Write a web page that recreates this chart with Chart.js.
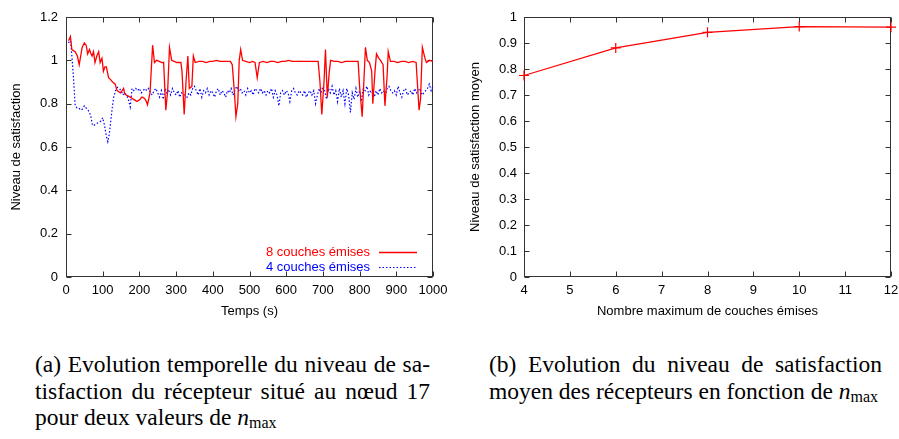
<!DOCTYPE html>
<html lang="fr">
<head>
<meta charset="utf-8">
<title>Niveau de satisfaction</title>
<script src="https://cdn.jsdelivr.net/npm/chart.js@4.4.0/dist/chart.umd.min.js"></script>
<style>
    html, body { margin: 0; padding: 0; background: #fff; }
    body { width: 899px; height: 439px; position: relative; overflow: hidden; }
    canvas { position: absolute; top: 0; }
    #chartA { left: 0; }
    #chartB { left: 450px; }
    .caption {
        position: absolute;
        font-family: "Liberation Serif", "Times New Roman", serif;
        font-size: 23.5px;
        line-height: 26.5px;
        color: #000;
    }
    .caption div { white-space: nowrap; }
    .caption .j { text-align: justify; text-align-last: justify; }
    .caption sub { font-size: 16px; vertical-align: -3px; line-height: 0; }
    #capA { left: 35px; top: 351px; width: 395px; }
    #capB { left: 489px; top: 351px; width: 393px; }
</style>
</head>
<body>
<canvas id="chartA" width="450" height="330"></canvas>
<canvas id="chartB" width="449" height="330"></canvas>

<div class="caption" id="capA">
    <div class="j">(a) Evolution temporelle du niveau de sa-</div>
    <div class="j">tisfaction du récepteur situé au nœud 17</div>
    <div>pour deux valeurs de <i>n</i><sub>max</sub></div>
</div>
<div class="caption" id="capB">
    <div class="j">(b) Evolution du niveau de satisfaction</div>
    <div>moyen des récepteurs en fonction de <i>n</i><sub>max</sub></div>
</div>

<script>
// Data

// (a) 8 couches émises
const redTimes = [7, 12, 16, 25, 31, 36, 44, 50, 55, 59, 64, 68, 71, 75, 79, 84, 89, 93, 98, 102,
    106, 110, 116, 122, 127, 134, 139, 144, 148, 153, 157, 160, 164, 170, 175, 180, 184, 189, 193, 198,
    202, 206, 209, 213, 216, 219, 222, 229, 236, 241, 247, 254, 261, 266, 272, 277, 282, 288, 295, 302,
    308, 313, 316, 322, 327, 332, 336, 343, 347, 352, 362, 372, 382, 392, 400, 410, 420, 430, 440, 448,
    453, 459, 463, 468, 472, 476, 481, 490, 500, 508, 515, 521, 527, 537, 547, 557, 567, 577, 587, 597,
    607, 617, 627, 637, 647, 657, 667, 677, 687, 692, 697, 703, 707, 712, 717, 721, 731, 741, 751, 761,
    771, 781, 790, 796, 800, 807, 811, 816, 821, 827, 833, 836, 842, 846, 852, 857, 864, 869, 875, 878,
    884, 894, 904, 914, 924, 934, 944, 954, 958, 962, 966, 971, 978, 982, 991, 1000];
const redValues = [1.09, 1.11, 1.05, 1.04, 1.02, 0.98, 1.06, 1.08, 1.07, 1.03, 1.05, 1.03, 1.02, 1.04, 0.99, 1.02, 1.04, 0.99, 1.01, 0.95,
    0.97, 0.97, 0.92, 0.91, 0.90, 0.89, 0.86, 0.855, 0.85, 0.86, 0.87, 0.845, 0.84, 0.835, 0.83, 0.825, 0.82, 0.815, 0.81, 0.815,
    0.82, 0.83, 0.83, 0.825, 0.82, 0.81, 0.795, 0.85, 1.07, 0.99, 1.0, 0.995, 0.99, 0.99, 0.77, 0.86, 1.06, 1.0, 0.995, 0.99,
    0.99, 0.99, 0.95, 0.75, 0.90, 1.02, 0.87, 0.88, 1.02, 0.99, 0.995, 0.995, 0.99, 0.995, 0.995, 1.0, 0.995, 0.995, 0.995, 0.995,
    0.98, 0.85, 0.74, 0.80, 1.0, 1.05, 1.0, 0.995, 0.99, 0.995, 0.99, 0.92, 0.99, 0.995, 0.99, 0.995, 0.995, 0.99, 0.995, 0.995,
    1.0, 0.995, 0.995, 0.995, 0.995, 0.995, 0.995, 0.995, 0.995, 0.90, 0.75, 0.90, 1.05, 0.83, 0.94, 1.0, 0.995, 0.995, 0.99, 0.995,
    0.995, 0.995, 0.995, 0.995, 0.88, 0.74, 0.88, 1.06, 1.0, 0.99, 0.95, 0.80, 0.95, 1.03, 1.01, 1.0, 0.98, 0.79, 0.93, 1.04,
    0.995, 0.995, 0.99, 0.995, 0.995, 0.99, 0.995, 0.99, 0.88, 0.77, 0.82, 1.06, 1.01, 0.99, 1.0, 0.995];

// (a) 4 couches émises
const blueTimes = [7, 12, 16, 20, 25, 30, 35, 40, 45, 50, 55, 60, 64, 68, 72, 76, 80, 85, 90, 95,
    100, 105, 110, 114, 118, 122, 126, 130, 135, 140, 145, 150, 155, 160, 165, 170, 175, 180, 185, 190,
    195, 200, 205, 210, 215, 220, 225, 230, 235, 240, 245, 250, 255, 260, 265, 270, 275, 280, 285, 290,
    295, 300, 305, 310, 315, 320, 325, 330, 335, 340, 345, 350, 355, 360, 365, 370, 375, 380, 385, 390,
    395, 400, 405, 410, 415, 420, 425, 430, 435, 440, 445, 450, 455, 460, 465, 470, 475, 480, 485, 490,
    495, 500, 505, 510, 515, 520, 525, 530, 535, 540, 545, 550, 555, 560, 565, 570, 575, 580, 585, 590,
    595, 600, 605, 610, 615, 620, 625, 630, 635, 640, 645, 650, 655, 660, 665, 670, 675, 680, 685, 690,
    695, 700, 705, 710, 715, 720, 725, 730, 735, 740, 745, 750, 755, 760, 765, 770, 775, 780, 785, 790,
    795, 800, 805, 810, 815, 820, 825, 830, 835, 840, 845, 850, 855, 860, 865, 870, 875, 880, 885, 890,
    895, 900, 905, 910, 915, 920, 925, 930, 935, 940, 945, 950, 955, 960, 965, 970, 975, 980, 985, 990,
    995, 1000];
const blueValues = [1.08, 1.10, 1.02, 0.93, 0.79, 0.78, 0.78, 0.77, 0.775, 0.79, 0.78, 0.77, 0.76, 0.74, 0.70, 0.70, 0.705, 0.71, 0.715, 0.72,
    0.735, 0.70, 0.65, 0.625, 0.66, 0.72, 0.78, 0.83, 0.86, 0.875, 0.87, 0.86, 0.84, 0.85, 0.84, 0.82, 0.785, 0.87, 0.86, 0.87,
    0.86, 0.87, 0.85, 0.86, 0.87, 0.86, 0.87, 0.85, 0.84, 0.86,
    0.87, 0.85, 0.83, 0.86, 0.82, 0.87, 0.85, 0.86, 0.84, 0.87,
    0.85, 0.84, 0.86, 0.83, 0.85, 0.84, 0.84, 0.83, 0.85, 0.84,
    0.87, 0.88, 0.86, 0.84, 0.87, 0.83, 0.86, 0.85, 0.87, 0.84,
    0.86, 0.85, 0.83, 0.86, 0.87, 0.84, 0.86, 0.85, 0.83, 0.86,
    0.85, 0.87, 0.84, 0.86, 0.88, 0.86, 0.87, 0.85, 0.86, 0.84,
    0.87, 0.85, 0.86, 0.84, 0.87, 0.86, 0.85, 0.87, 0.85, 0.86,
    0.84, 0.86, 0.85, 0.87, 0.83, 0.86, 0.84, 0.79, 0.85, 0.86,
    0.84, 0.86, 0.85, 0.81, 0.86, 0.87, 0.85, 0.84, 0.86, 0.85,
    0.84, 0.86, 0.83, 0.85, 0.86, 0.84, 0.86, 0.80, 0.84, 0.87,
    0.85, 0.88, 0.86, 0.82, 0.87, 0.85, 0.88, 0.84, 0.86, 0.81,
    0.87, 0.83, 0.86, 0.80, 0.87, 0.84, 0.76, 0.85, 0.82, 0.87,
    0.83, 0.86, 0.81, 0.87, 0.86, 0.88, 0.84, 0.86, 0.85, 0.83,
    0.86, 0.84, 0.87, 0.85, 0.86, 0.84, 0.87, 0.88, 0.86, 0.85,
    0.86, 0.84, 0.88, 0.85, 0.83, 0.86, 0.87, 0.84, 0.85, 0.86,
    0.84, 0.87, 0.85, 0.86, 0.87, 0.84, 0.85, 0.86, 0.87, 0.89,
    0.86, 0.88];

// (b) satisfaction moyenne vs nombre max de couches
const nmaxValues = [4, 6, 8, 10, 12];
const meanSatisfaction = [0.775, 0.881, 0.941, 0.963, 0.961];

const seriesLabels = ['8 couches émises', '4 couches émises'];

Chart.defaults.font.family = '"Liberation Sans", Arial, Helvetica, sans-serif';
Chart.defaults.font.size = 13;
Chart.defaults.color = '#000';
Chart.defaults.animation = false;

function toPoints(xs, ys) {
    return xs.map((x, i) => ({ x: x, y: ys[i] }));
}

// plain gnuplot-like labels: 1, 1.2, 1000
function plainLabel(v) {
    return String(Number(v.toFixed(2)));
}

// keep the plot box exactly where the layout padding puts it
function noOverhang(s) {
    s.paddingLeft = 0; s.paddingRight = 0;
    s.paddingTop = 0; s.paddingBottom = 0;
}

// gnuplot style box with inward ticks on all four sides
const gnuplotFrame = {
    id: 'gnuplotFrame',
    beforeDatasetsDraw(chart) {
        const { ctx, chartArea: a, scales } = chart;
        const L = Math.round(a.left) + 0.5, R = Math.round(a.right) - 0.5;
        const T = Math.round(a.top) + 0.5, B = Math.round(a.bottom) - 0.5;
        const len = 5;
        ctx.save();
        ctx.strokeStyle = '#333';
        ctx.lineWidth = 1;
        ctx.beginPath();
        scales.x.ticks.forEach(t => {
            const px = Math.round(scales.x.getPixelForValue(t.value)) + 0.5;
            ctx.moveTo(px, B); ctx.lineTo(px, B - len);
            ctx.moveTo(px, T); ctx.lineTo(px, T + len);
        });
        scales.y.ticks.forEach(t => {
            const py = Math.round(scales.y.getPixelForValue(t.value)) + 0.5;
            ctx.moveTo(L, py); ctx.lineTo(L + len, py);
            ctx.moveTo(R, py); ctx.lineTo(R - len, py);
        });
        ctx.stroke();
        ctx.strokeRect(L, T, R - L, B - T);
        ctx.restore();
    }
};

// Legend inside the plot, text on the left of the line sample
const insideLegend = {
    id: 'insideLegend',
    afterDatasetsDraw(chart) {
        const { ctx, chartArea: a } = chart;
        ctx.save();
        ctx.font = '13px "Liberation Sans", Arial, sans-serif';
        ctx.textAlign = 'right';
        ctx.textBaseline = 'middle';
        chart.data.datasets.forEach((ds, i) => {
            const y = Math.round(a.bottom - 25 + i * 15) + 0.5;
            ctx.fillStyle = ds.borderColor;
            ctx.fillText(ds.label, a.right - 63, y);
            ctx.strokeStyle = ds.borderColor;
            ctx.lineWidth = ds.borderWidth;
            ctx.setLineDash(ds.borderDash || []);
            ctx.beginPath();
            ctx.moveTo(a.right - 54, y);
            ctx.lineTo(a.right - 16, y);
            ctx.stroke();
        });
        ctx.restore();
    }
};

// Chart (a)
new Chart(document.getElementById('chartA'), {
    type: 'line',
    data: {
        datasets: [{
            label: seriesLabels[0],
            data: toPoints(redTimes, redValues),
            borderColor: '#ff0000',
            borderWidth: 1.3,
            pointRadius: 0,
            tension: 0
        }, {
            label: seriesLabels[1],
            data: toPoints(blueTimes, blueValues),
            borderColor: '#0000ff',
            borderWidth: 1.2,
            borderDash: [1.5, 2],
            pointRadius: 0,
            tension: 0
        }]
    },
    options: {
        responsive: false,
        layout: { padding: { left: 9, right: 17, top: 17, bottom: 11 } },
        plugins: { legend: { display: false }, tooltip: { enabled: false } },
        scales: {
            x: {
                type: 'linear', min: 0, max: 1000,
                ticks: { stepSize: 100, padding: 6, maxRotation: 0, autoSkip: false, callback: plainLabel },
                grid: { display: false, drawTicks: false },
                border: { display: false },
                title: { display: true, text: 'Temps (s)', padding: 0 },
                afterFit(s) { s.height = 42; noOverhang(s); }
            },
            y: {
                min: 0, max: 1.2,
                ticks: { stepSize: 0.2, padding: 8, callback: plainLabel },
                grid: { display: false, drawTicks: false },
                border: { display: false },
                title: { display: true, text: 'Niveau de satisfaction', padding: 0 },
                afterFit(s) { s.width = 57; noOverhang(s); }
            }
        }
    },
    plugins: [gnuplotFrame, insideLegend]
});

// Chart (b)
new Chart(document.getElementById('chartB'), {
    type: 'line',
    data: {
        datasets: [{
            data: toPoints(nmaxValues, meanSatisfaction),
            borderColor: '#ff0000',
            borderWidth: 1.2,
            pointStyle: 'cross',
            pointRadius: 5,
            pointBorderWidth: 1.2,
            pointBorderColor: '#ff0000',
            tension: 0,
            clip: false
        }]
    },
    options: {
        responsive: false,
        layout: { padding: { left: 18, right: 8, top: 17, bottom: 11 } },
        plugins: { legend: { display: false }, tooltip: { enabled: false } },
        scales: {
            x: {
                type: 'linear', min: 4, max: 12,
                ticks: { stepSize: 1, padding: 6, maxRotation: 0, autoSkip: false, callback: plainLabel },
                grid: { display: false, drawTicks: false },
                border: { display: false },
                title: { display: true, text: 'Nombre maximum de couches émises', padding: 0 },
                afterFit(s) { s.height = 42; noOverhang(s); }
            },
            y: {
                min: 0, max: 1,
                ticks: { stepSize: 0.1, padding: 7, callback: plainLabel },
                grid: { display: false, drawTicks: false },
                border: { display: false },
                title: { display: true, text: 'Niveau de satisfaction moyen', padding: 0 },
                afterFit(s) { s.width = 56; noOverhang(s); }
            }
        }
    },
    plugins: [gnuplotFrame]
});
</script>
</body>
</html>
